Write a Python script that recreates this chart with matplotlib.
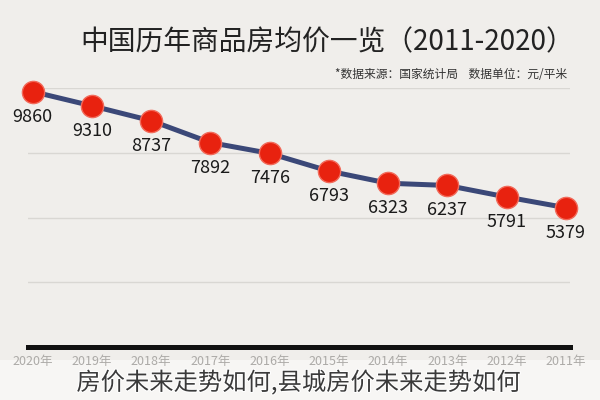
import matplotlib
matplotlib.use('Agg')
import matplotlib.pyplot as plt
import matplotlib.patheffects as pe
from matplotlib.patches import Rectangle

plt.rcParams['font.family'] = ['Noto Sans CJK SC', 'DejaVu Sans']

# --- data --- #
years = [2011, 2012, 2013, 2014, 2015, 2016, 2017, 2018, 2019, 2020]
prices = [5379, 5791, 6237, 6323, 6793, 7476, 7892, 8737, 9310, 9860]
year_labels = [str(y) + '年' for y in years]

title = '中国历年商品房均价一览（2011-2020）'
subtitle = '*数据来源：国家统计局    数据单位：元/平米'
caption = '房价未来走势如何,县城房价未来走势如何'

bg = '#f0eeeb'

fig = plt.figure(figsize=(6, 4), dpi=100, facecolor=bg)

# lighter band at the bottom
fig.patches.append(Rectangle((0, 0), 1, 0.1, transform=fig.transFigure,
                             facecolor='#f7f6f4', edgecolor='none', zorder=-5))

# axes: x from px 28 to 570, y from px 88 to 347
ax = fig.add_axes([28 / 600, 1 - 347 / 400, 542 / 600, 259 / 400])
ax.set_facecolor('none')
ax.set_xlim(2020.08, 2010.93)   # reversed, 2011 on the right
ax.set_ylim(0, 10000)

for g in [2500, 5000, 7500, 10000]:
    ax.axhline(g, color='#d9d7d3', lw=1, zorder=1)
ax.axhline(0, color='#111111', lw=3.6, zorder=2, clip_on=False)

ax.plot(years, prices, color='#3b4878', lw=3.6, zorder=3, clip_on=False)
ax.plot(years, prices, 'o', ms=16, color='#e8220f', mec='#f26a5a', mew=1,
        zorder=4, clip_on=False)

for x, v in zip(years, prices):
    ax.annotate(str(v), (x, v), xytext=(0, -18), textcoords='offset points',
                ha='center', va='center', fontsize=13, color='#1a1a1a',
                fontweight='medium', zorder=5)

for s in ax.spines.values():
    s.set_visible(False)
ax.set_yticks([])
ax.set_xticks(years)
ax.set_xticklabels(year_labels, fontsize=9, color='#acaaa7')
ax.tick_params(axis='x', length=0, pad=6)

fig.text(327 / 600, 1 - 42 / 400, title, ha='center', va='center',
         fontsize=20, color='#222222')
fig.text(567 / 600, 1 - 75 / 400, subtitle, ha='right', va='center',
         fontsize=8.5, color='#333333')
fig.text(298 / 600, 1 - 383 / 400, caption, ha='center', va='center',
         fontsize=17.5, color='#3a3a3a', fontweight='light',
         path_effects=[pe.withStroke(linewidth=1.5, foreground='#ffffff')])

fig.savefig('out.png', dpi=100, facecolor=bg)
